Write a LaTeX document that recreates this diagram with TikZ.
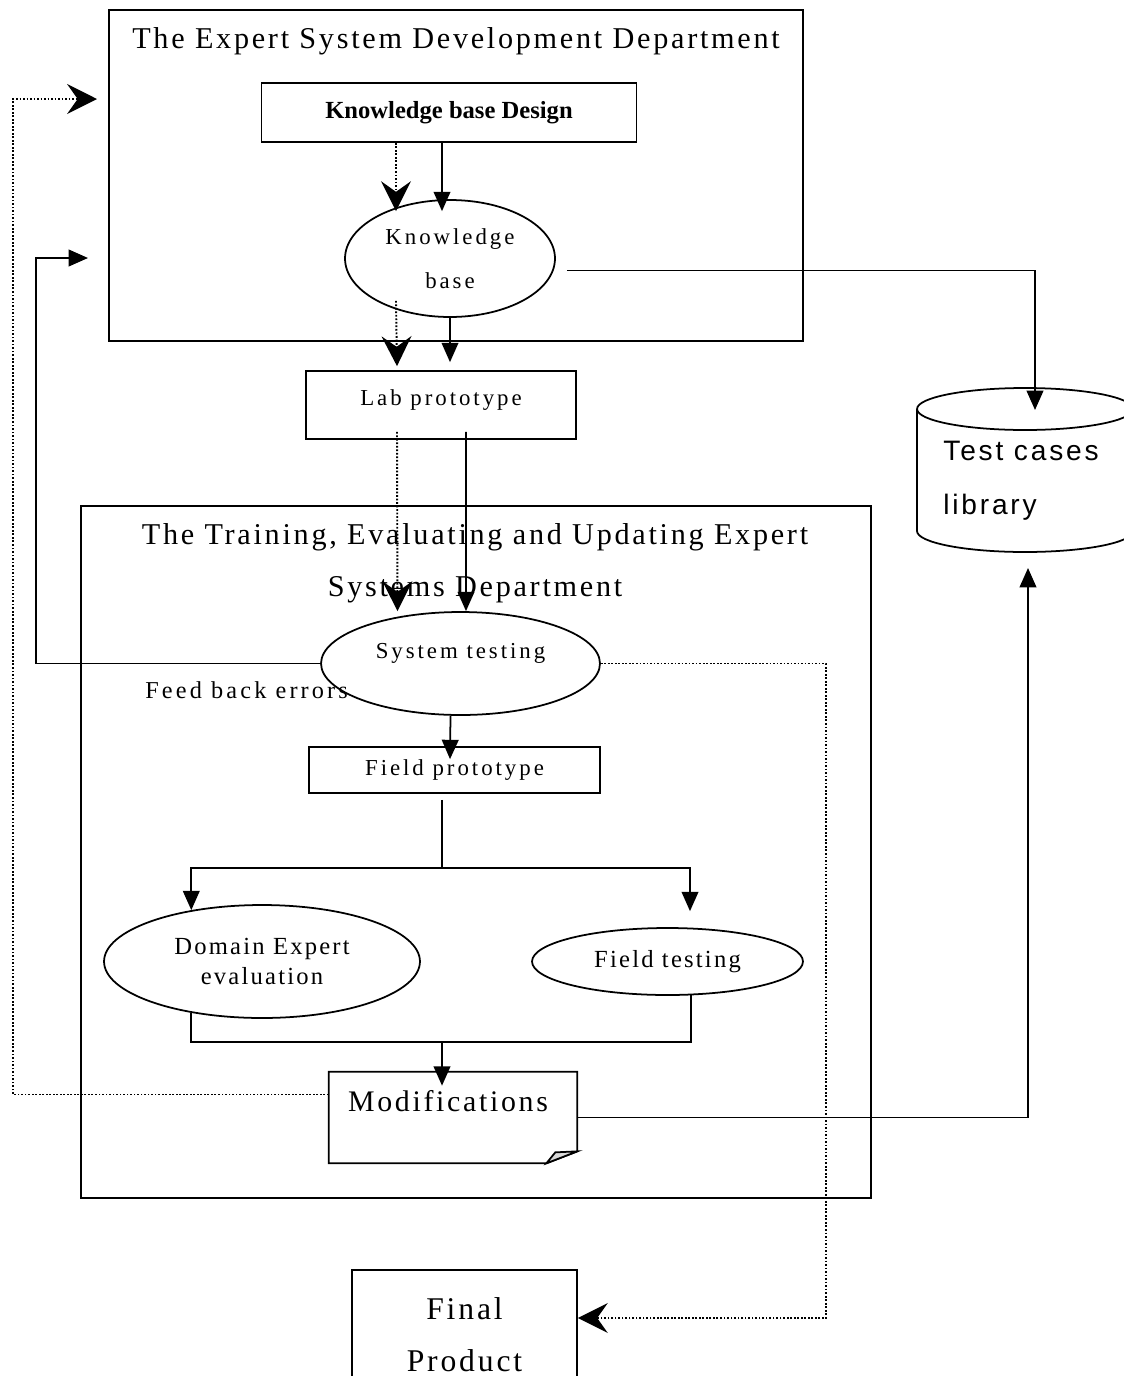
\documentclass[tikz,border=0pt]{standalone}
\usepackage{fontspec}
\setmainfont{Liberation Serif}
\newfontfamily\labelfont[LetterSpace=13]{Liberation Serif}
\newfontfamily\titlefont[LetterSpace=9]{Liberation Serif}
\newfontfamily\dbfont[LetterSpace=10]{Liberation Sans}
\usepackage{tikz}
\usetikzlibrary{shapes.geometric,arrows.meta,calc}
\tikzstyle{dept}=[rectangle,draw,line width=1.2pt,inner sep=0pt]
\tikzstyle{box}=[rectangle,draw,line width=1pt,inner sep=0pt]
\tikzstyle{oval}=[ellipse,draw,line width=1pt,inner sep=0pt,align=center]
\tikzstyle{small}=[font=\labelfont\fontsize{13}{25}\selectfont]
\tikzstyle{big}=[font=\titlefont\fontsize{17.2}{29.5}\selectfont]
\tikzstyle{link}=[line width=1pt]
\tikzstyle{flow}=[line width=1pt,-{Triangle[width=9.5pt,length=11pt]}]
\tikzstyle{dotflow}=[line width=1.1pt,dash pattern=on 1pt off 1pt,-{Stealth[width=17pt,length=17pt,inset=6pt]}]

\begin{document}
\begin{tikzpicture}[x=0.02cm,y=-0.02cm]
\useasboundingbox (0,0) rectangle (1123,1376);

% Departments
\node[dept,minimum width=13.88cm,minimum height=6.62cm] (dev) at (456,175.5) {};
\node[dept,minimum width=15.8cm,minimum height=13.84cm] (train) at (476,852) {};
\node[big,anchor=base] (dev title) at (456,48) {The Expert System Development Department};
\node[big,align=center] (train title) at (475,563) {The Training, Evaluating and Updating Expert\\Systems Department};

% Nodes
\node[box,minimum width=7.5cm,minimum height=1.18cm,font=\bfseries\fontsize{14}{17}\selectfont] (design) at (449,112.5) {Knowledge base Design};
\node[oval,small,minimum width=4.2cm,minimum height=2.34cm] (kb) at (450,258.5) {Knowledge\\base};
\node[box,small,minimum width=5.4cm,minimum height=1.36cm,text height=0.3cm,text depth=0.3cm] (lab) at (441,405) {Lab prototype};
\node[oval,small,minimum width=5.58cm,minimum height=2.06cm,text height=0.3cm,text depth=0.52cm] (systest) at (460.5,663.5) {System testing};
\node[small,font=\labelfont\fontsize{13.8}{17}\selectfont,anchor=base west,inner sep=0pt] (feedback) at (145,698) {Feed back errors};
\node[box,small,minimum width=5.82cm,minimum height=0.92cm] (field) at (454.5,770) {Field prototype};
\node[oval,font=\titlefont\fontsize{14}{16.7}\selectfont,minimum width=6.32cm,minimum height=2.26cm] (domain) at (262,961.5) {Domain Expert\\evaluation};
\node[oval,font=\titlefont\fontsize{14}{17}\selectfont,minimum width=5.42cm,minimum height=1.34cm] (fieldtest) at (667.5,961.5) {Field testing};
\node[inner sep=0pt,minimum width=4.96cm,minimum height=1.82cm,text depth=0.67cm,font=\titlefont\fontsize{17}{20}\selectfont] (mod) at (453,1117.5) {Modifications\hspace*{0.2cm}};
\node[box,align=center,minimum width=4.5cm,minimum height=2.6cm,font=\titlefont\fontsize{18}{29.5}\selectfont] (final) at (464.5,1335) {Final\\Product};
\node[align=left,font=\dbfont\fontsize{16}{31}\selectfont] (lib) at (1021,481) {Test cases\\library};

% Modifications sheet and library drum
\draw[link] (mod.north west) -- (mod.north east) -- ($(mod.south east)+(0,-12)$) -- ($(mod.south east)+(-31,0)$) -- (mod.south west) -- cycle;
\draw[link,fill=gray!30] ($(mod.south east)+(-31,0)$) -- ($(mod.south east)+(-22,-11)$) -- ($(mod.south east)+(0,-12)$) -- cycle;
\draw[link] (917,409) -- (917,531) arc[start angle=180,end angle=360,x radius=2.16cm,y radius=0.42cm] -- (1133,409);
\draw[link] (1025,409) ellipse [x radius=2.16cm,y radius=0.42cm];

% Free ends
\coordinate (fb corner) at (36,258);
\coordinate (fb in) at (88,258);
\coordinate (mod corner) at (13,99);
\coordinate (dev in) at (97,99);
\coordinate (final corner) at (826,1318);
\coordinate (lib top) at (1035,410);
\coordinate (lib bottom) at (1028,568);

% Edges
\draw[dotflow] ($(design.south)+(-53,0)$) -- ($(kb.north)+(-54,12)$);
\draw[flow] ($(design.south)+(-7,0)$) -- ($(kb.north)+(-8,12)$);
\draw[dotflow] ($(kb.south)+(-54,-17)$) -- ($(lab.north)+(-44,-4)$);
\draw[flow] (kb.south) -- ($(lab.north)+(9,-8)$);
\draw[dotflow] ($(lab.south)+(-44,-8)$) -- ($(systest.north)+(-63,0)$);
\draw[flow] ($(lab.south)+(25,-8)$) -- ($(systest.north)+(5.5,0)$);
\draw[flow] ($(systest.south)+(-10,0)$) -- ($(field.north)+(-4.5,13)$);
\draw[link] ($(field.south)+(-12.5,6)$) -- ++(0,68) coordinate (fork);
\draw[flow] (fork) -| (domain.144);
\draw[flow] (fork) -| ($(fieldtest.north)+(22.5,-16)$);
\draw[link] (domain.216) -- ++(0,29) coordinate (join) -| (fieldtest.305);
\draw[flow] (fork |- join) -- ($(mod.north)+(-11,14)$);
\draw[flow] (systest.west) -| (fb corner) -- (fb in);
\draw[dotflow] ($(mod.west)+(0,-23)$) -| (mod corner) -- (dev in);
\draw[dotflow] (systest.east) -| (final corner) -- (final corner -| final.east);
\draw[flow] ($(kb.east)+(11,12)$) -| (lib top);
\draw[flow] (mod.east) -| (lib bottom);

\end{tikzpicture}
\end{document}
